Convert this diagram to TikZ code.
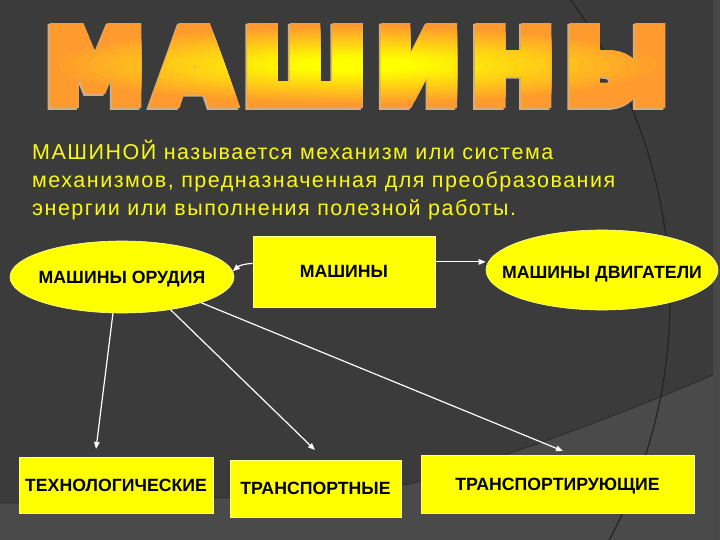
\documentclass[tikz,border=0pt]{standalone}
\usepackage{fontspec}
\setmainfont{Liberation Sans}
\newfontfamily\titlefont[FakeBold=12]{DejaVu Sans Bold}
\newfontfamily\parafont[LetterSpace=7]{Liberation Sans}
\usetikzlibrary{arrows.meta,shapes.geometric}
\definecolor{bgbase}{HTML}{3B3B3B}
\definecolor{bglow}{HTML}{4A4A4A}
\definecolor{bgstrip}{HTML}{484848}
\definecolor{arcc}{HTML}{242424}
\definecolor{tOrg}{HTML}{FF9A2E}
\definecolor{tYel}{HTML}{FFFF00}
\definecolor{tShadow}{HTML}{C8B090}
\definecolor{ptext}{HTML}{FAFA14}
\definecolor{boxy}{HTML}{FFFF00}
\newcommand\mytitletext{\resizebox{622pt}{74pt}{\titlefont М\kern0.12emА\kern0.12emШ\kern0.12emИ\kern0.12emН\kern0.12emЫ}}
\tikzset{
  ybox/.style={rectangle, fill=boxy, draw=white!60!boxy, line width=0.8pt, inner sep=0pt,
    font=\bfseries\fontsize{17.7}{20}\selectfont, text=black, text height=12.7pt, text depth=0pt},
  yell/.style={ellipse, fill=boxy, draw=white!60!boxy, line width=0.6pt, inner sep=0pt,
    font=\bfseries\fontsize{17.7}{20}\selectfont, text=black, text height=12.7pt, text depth=0pt},
  para/.style={text=ptext, inner sep=0pt, font={\parafont\fontsize{21.5}{27}\selectfont}},
  conn/.style={draw=white, line width=1.2pt, -{Triangle[length=7pt,width=5.5pt]}},
  ttl/.style={inner sep=0pt}
}
\begin{document}
\begin{tikzpicture}[x=1pt,y=-1pt]
\useasboundingbox (0,0) rectangle (720,540);
% background
\fill[bgbase] (0,0) rectangle (720,540);
\fill[bglow] (0,503) .. controls (180,502) and (330,494) .. (410,484)
  .. controls (500,460) and (620,415) .. (720,372) -- (720,540) -- (0,540) -- cycle;
\draw[arcc!70!bgbase, line width=0.8pt] (0,503) .. controls (180,502) and (330,494) .. (410,484)
  .. controls (500,460) and (620,415) .. (720,372);
\fill[bgstrip] (713,0) rectangle (720,540);
\begin{scope}
\clip (0,0) rectangle (720,540);
\draw[arcc, line width=1.2pt] (566,-6) arc[start angle=-37.5, end angle=30, radius=503];
\end{scope}
% title
\begin{scope}
\clip (30,24) rectangle (690,110);
\node[ttl, text=tShadow] (tsh) at (355.5,67) {\mytitletext};
\node[ttl, text=tOrg] (t0) at (357.5,65) {\mytitletext};
\foreach \i [evaluate=\i as \r using 1-0.05*\i, evaluate=\i as \p using int(6.25*\i)] in {1,...,16}{
  \begin{scope}
    \clip (357.5,65) ellipse [x radius=315.5*\r, y radius=40*\r];
    \node[ttl, text=tYel!\p!tOrg] at (357.5,65) {\mytitletext};
  \end{scope}
}
\end{scope}
% paragraph
\node[para, anchor=base west] (p1) at (32,160) {МАШИНОЙ называется механизм или система};
\node[para, anchor=base west] (p2) at (32,188) {механизмов, предназначенная для преобразования};
\node[para, anchor=base west] (p3) at (32,215) {энергии или выполнения полезной работы.};
% nodes
\node[yell, minimum width=224pt, minimum height=72pt] (orud) at (122,277) {\makebox[0pt]{МАШИНЫ ОРУДИЯ}};
\node[ybox, minimum width=182pt, minimum height=71pt] (masch) at (344,271.5) {МАШИНЫ};
\node[yell, minimum width=232pt, minimum height=80pt] (dvig) at (602,270) {\makebox[0pt]{\raisebox{-2pt}{МАШИНЫ ДВИГАТЕЛИ}}};
\node[ybox, minimum width=194pt, minimum height=56pt] (tech) at (116,485) {ТЕХНОЛОГИЧЕСКИЕ};
\node[ybox, minimum width=171pt, minimum height=57pt] (trans) at (315.5,488.5) {ТРАНСПОРТНЫЕ};
\node[ybox, minimum width=273pt, minimum height=58pt] (transp) at (557.5,484) {ТРАНСПОРТИРУЮЩИЕ};
% connectors
\draw[conn] (masch.6) -- (masch.6 -| dvig.west);
\draw[conn] (masch.175) to[bend right=20] (orud.3);
\coordinate (t1) at (96,449);
\coordinate (t2) at (315,450);
\coordinate (t3) at (563,451);
\draw[conn] (orud.256) -- (t1);
\draw[conn] (orud.326) -- (t2);
\draw[conn] (orud.342) -- (t3);
\end{tikzpicture}
\end{document}
